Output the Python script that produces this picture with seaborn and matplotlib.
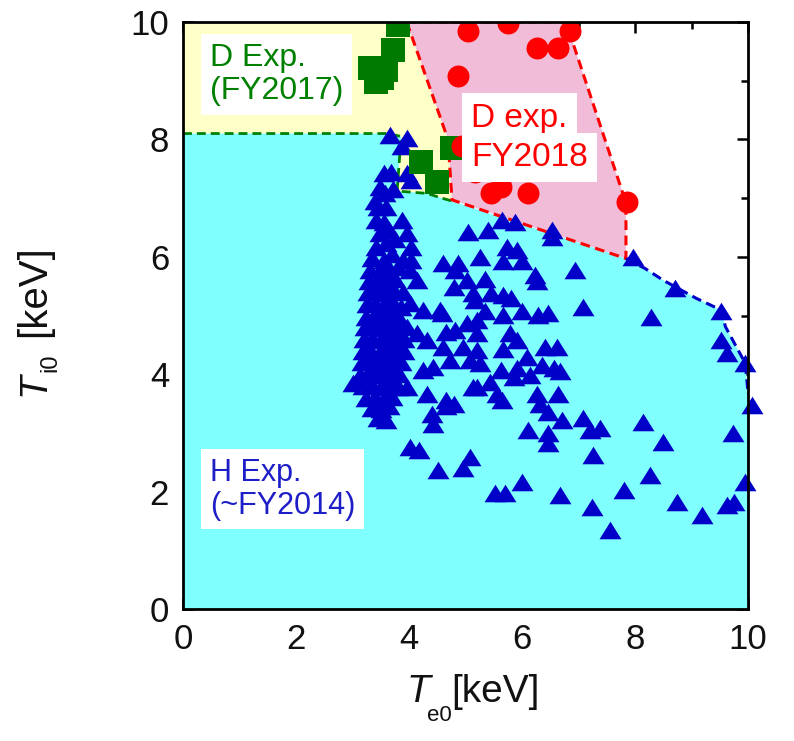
import matplotlib
matplotlib.use("Agg")
import matplotlib.pyplot as plt
import seaborn as sns
import pandas as pd
from matplotlib.path import Path
from matplotlib.ticker import MultipleLocator

# ---------------- data ----------------
# H experiments (~FY2014): triangles
tri_x = [
    # dense column
    3.55, 3.69, 3.96, 4.04, 3.49, 3.58, 3.72, 3.46, 3.60, 3.39, 3.42, 3.55, 3.87,
    3.49, 3.65, 3.96, 3.42, 3.60, 4.04, 3.76, 3.34, 3.55, 3.90, 4.04, 3.70,
    3.31, 3.50, 3.65, 3.81, 3.29, 3.45, 3.60, 3.76, 3.27, 3.41, 3.58, 3.72, 3.89,
    3.26, 3.39, 3.55, 3.70, 3.86, 4.01, 3.24, 3.39, 3.55, 3.70, 3.83,
    3.22, 3.37, 3.52, 3.68, 3.81, 3.96, 3.21, 3.34, 3.50, 3.65, 3.79, 3.91,
    3.19, 3.31, 3.48, 3.62, 3.76, 3.91, 3.17, 3.29, 3.45, 3.60, 3.72, 3.86,
    3.13, 3.27, 3.41, 3.58, 3.70, 3.83, 3.00, 3.19, 3.34, 3.50, 3.65, 3.81,
    3.24, 3.39, 3.55, 3.70, 3.34, 3.50, 3.65, 3.45, 3.60,
    3.66, 3.96, 3.87,
    # scattered
    5.05, 5.40, 5.64, 5.87, 6.53, 6.53, 7.97, 8.71, 9.53, 6.94, 7.08, 8.29, 9.53,
    9.63, 9.95, 10.07, 9.74, 8.15, 8.50, 8.26, 9.95, 9.63, 9.76, 9.18, 8.74, 7.80,
    7.24, 7.56, 6.67, 6.00, 5.52, 5.70, 5.08, 4.96, 7.26, 7.08, 7.21, 7.38, 6.11,
    6.46, 6.46, 6.70, 4.79,
    5.55, 5.65, 6.26, 6.32, 6.46, 6.64, 5.20, 5.85, 6.14, 6.67, 5.43,
    5.73, 5.91, 5.67, 6.00, 5.25, 6.23, 6.26, 5.35, 5.67, 5.81, 5.17, 6.00, 6.29,
    6.46, 5.35, 5.67, 5.20, 5.79, 5.91, 6.41, 6.62, 5.20, 5.67, 5.25, 6.08, 6.35,
    6.56, 5.62, 5.91,
    4.60, 4.87, 4.58, 4.14, 4.31, 4.66, 4.81, 5.03, 4.96, 4.60, 4.73, 5.08, 4.43,
    4.25, 5.14, 4.66, 4.31, 3.96, 4.14, 4.81, 5.03, 4.25,
    4.01, 4.17, 4.52, 4.41, 4.43, 4.66, 4.55, 4.01, 5.46, 5.14, 4.79, 5.20,
]
tri_y = [
    7.42, 7.45, 7.42, 7.31, 7.19, 7.08, 7.15, 6.85, 6.85, 6.95, 6.63, 6.60, 6.63,
    6.40, 6.45, 6.40, 6.17, 6.23, 6.17, 6.30, 5.98, 5.95, 5.95, 5.95, 6.05,
    5.78, 5.80, 5.75, 5.82, 5.58, 5.60, 5.55, 5.62, 5.40, 5.42, 5.38, 5.45, 5.40,
    5.20, 5.22, 5.18, 5.25, 5.15, 5.22, 4.98, 5.02, 4.98, 5.05, 4.95,
    4.80, 4.82, 4.78, 4.85, 4.75, 4.80, 4.60, 4.62, 4.58, 4.65, 4.55, 4.60,
    4.40, 4.42, 4.38, 4.45, 4.35, 4.40, 4.20, 4.22, 4.18, 4.25, 4.15, 4.20,
    3.98, 4.02, 3.98, 4.05, 3.95, 4.00, 3.85, 3.80, 3.82, 3.78, 3.85, 3.78,
    3.60, 3.62, 3.58, 3.62, 3.42, 3.40, 3.45, 3.25, 3.22,
    8.07, 8.02, 7.88,
    6.43, 6.46, 6.63, 6.60, 6.46, 6.33, 6.00, 5.46, 5.07, 5.78, 5.15, 4.98, 4.58,
    4.36, 4.19, 3.48, 2.99, 3.19, 2.85, 2.28, 2.17, 1.77, 1.83, 1.60, 1.83, 2.03,
    1.74, 1.35, 1.94, 2.17, 1.97, 1.97, 2.59, 2.40, 2.62, 3.25, 3.05, 3.08, 3.05,
    2.99, 2.82, 3.22, 3.50,
    3.67, 3.56, 3.67, 3.50, 3.36, 3.67, 3.79, 3.95, 3.99, 4.05, 3.87,
    6.17, 6.12, 5.92, 5.92, 6.00, 5.69, 5.58, 5.63, 5.35, 5.29, 5.26, 5.07, 5.01,
    5.04, 5.07, 5.01, 4.70, 4.70, 4.58, 4.47, 4.47, 4.41, 4.43, 4.19, 4.30, 4.16,
    4.10, 4.07, 4.10,
    5.89, 5.89, 5.04, 4.70, 4.58, 4.72, 4.75, 4.87, 4.47, 4.47, 4.24, 4.24, 4.13,
    4.07, 3.79, 3.56, 3.67, 3.79, 5.60, 5.78, 5.60, 5.09,
    2.76, 2.71, 2.37, 3.33, 3.16, 3.45, 5.09, 5.78, 5.38, 5.38, 5.49, 4.92,
]

# D experiments FY2017: squares
sq_x = [3.81, 3.72, 3.31, 3.60, 3.42, 3.52, 4.22, 4.49, 4.76]
sq_y = [9.95, 9.52, 9.21, 9.18, 8.98, 9.05, 7.62, 7.28, 7.85]

# D experiments FY2018: circles
circ_x = [5.05, 5.76, 6.85, 6.26, 6.64, 4.87, 4.93, 5.17, 5.46, 5.62, 6.11, 7.85]
circ_y = [9.85, 9.99, 9.84, 9.55, 9.55, 9.08, 7.88, 7.45, 7.08, 7.19, 7.08, 6.94]

# region boundaries
h_bx = [0.0, 3.62, 3.86, 3.79, 4.32, 4.58, 4.76, 7.84, 8.18, 8.50, 9.09, 9.53,
        9.60, 9.95, 10.0]
h_by = [8.10, 8.10, 8.05, 7.12, 7.08, 7.00, 6.95, 5.97, 5.80, 5.60, 5.29, 5.09,
        4.81, 4.19, 3.70]
d18_x = [3.96, 4.69, 4.76, 7.84, 7.84, 6.83, 6.75]
d18_y = [10.0, 8.00, 6.97, 5.97, 6.92, 9.85, 10.0]
d17_x = [0.0, 3.96, 4.69, 4.76]
d17_y = [10.0, 10.0, 8.00, 6.97]

# ---------------- style ----------------
sns.set_theme(style="ticks")
plt.rcParams["font.family"] = ["Liberation Sans", "DejaVu Sans"]

CYAN = "#80FFFF"
YELLOW = "#FFFFC8"
PINK = "#F0BCD8"
GREEN = "#007A00"
RED = "#FF0000"
BLUE = "#0000C8"

W, H = 794, 741
fig = plt.figure(figsize=(W / 100, H / 100), dpi=100)
ax = fig.add_axes([183 / W, 1 - 609 / H, 565 / W, 587 / H])

# fills
yel_x = d17_x + h_bx[6::-1]
yel_y = d17_y + h_by[6::-1]
ax.fill(yel_x, yel_y, color=YELLOW, lw=0, zorder=1)
ax.fill(d18_x, d18_y, color=PINK, lw=0, zorder=1)
ax.fill([0.0] + h_bx + [10.0], [0.0] + h_by + [0.0], color=CYAN, lw=0, zorder=2)

# dashed boundaries
ax.plot(h_bx[:7], h_by[:7], color="#008000", lw=2.0, ls=(0, (3.2, 1.8)), zorder=3)
ax.plot(d18_x + [d18_x[0]], d18_y + [d18_y[0]], color=RED, lw=2.2,
        ls=(0, (3.2, 1.8)), zorder=3)
ax.plot(h_bx[7:], h_by[7:], color=BLUE, lw=2.2, ls=(0, (3.2, 1.8)), zorder=3)

tri_marker = Path([(-1, -0.8), (1, -0.8), (0, 0.8), (-1, -0.8)],
                  [Path.MOVETO, Path.LINETO, Path.LINETO, Path.CLOSEPOLY])

df_h = pd.DataFrame({"Te0": tri_x, "Ti0": tri_y})
df_17 = pd.DataFrame({"Te0": sq_x, "Ti0": sq_y})
df_18 = pd.DataFrame({"Te0": circ_x, "Ti0": circ_y})

sns.scatterplot(data=df_h, x="Te0", y="Ti0", marker=tri_marker, s=250,
                color=BLUE, linewidth=0, ax=ax, zorder=4)
ax.collections[-1].set_clip_on(False)
sns.scatterplot(data=df_17, x="Te0", y="Ti0", marker="s", s=290,
                color=GREEN, linewidth=0, ax=ax, zorder=5)
sns.scatterplot(data=df_18, x="Te0", y="Ti0", marker="o", s=250,
                color=RED, linewidth=0, ax=ax, zorder=5)

# in-plot labels
ax.text(1.65, 9.11, "D Exp.\n(FY2017)", color="#008000", fontsize=23,
        ha="center", va="center", multialignment="left", linespacing=1.12,
        bbox=dict(boxstyle="square,pad=0.28", fc="white", ec="none"), zorder=6)
ax.text(1.76, 2.04, "H Exp.\n(~FY2014)", color="#1E1EC8", fontsize=22,
        ha="center", va="center", multialignment="left", linespacing=1.12,
        bbox=dict(boxstyle="square,pad=0.28", fc="white", ec="none"), zorder=6)
ax.text(5.10, 8.36, "D exp.", color=RED, fontsize=24, ha="left", va="center",
        bbox=dict(boxstyle="square,pad=0.28", fc="white", ec="none"), zorder=6)
ax.text(5.10, 7.69, "FY2018", color=RED, fontsize=24, ha="left", va="center",
        bbox=dict(boxstyle="square,pad=0.28", fc="white", ec="none"), zorder=6)

ax.set_xlim(0, 10)
ax.set_ylim(0, 10)
ax.xaxis.set_major_locator(MultipleLocator(2))
ax.xaxis.set_minor_locator(MultipleLocator(1))
ax.yaxis.set_major_locator(MultipleLocator(2))
ax.yaxis.set_minor_locator(MultipleLocator(1))
ax.tick_params(which="both", direction="in", top=True, right=True,
               width=1.8, color="black", labelsize=25, labelcolor="#111111")
ax.tick_params(which="major", length=8, pad=10)
ax.tick_params(which="minor", length=5)
for sp in ax.spines.values():
    sp.set_linewidth(2.0)
    sp.set_color("black")
    sp.set_zorder(7)
ax.set_xlabel("")
ax.set_ylabel("")

# axis titles built from pieces (italic T, lowered subscript)
def ftxt(px, py, s, **kw):
    fig.text(px / W, 1 - py / H, s, color="#111111", **kw)

ftxt(407, 702, "T", fontsize=28, style="italic", ha="left", va="baseline")
ftxt(427, 721, "e0", fontsize=16, ha="left", va="baseline")
ftxt(451, 702, "[keV]", fontsize=28, ha="left", va="baseline")

ftxt(45, 396, "T", fontsize=28, style="italic", ha="left", va="baseline",
     rotation=90, rotation_mode="anchor")
ftxt(56, 372, "i0", fontsize=17, ha="left", va="baseline",
     rotation=90, rotation_mode="anchor")
ftxt(45, 337, "[keV]", fontsize=29, ha="left", va="baseline",
     rotation=90, rotation_mode="anchor")

fig.savefig("out.png", dpi=100)
